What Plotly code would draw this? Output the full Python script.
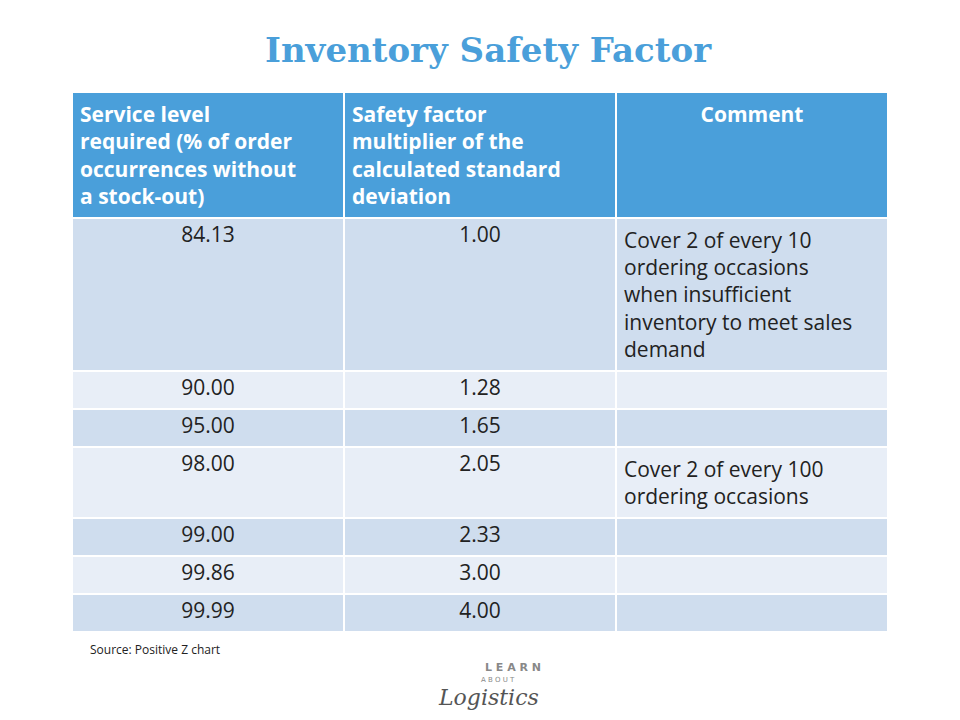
import plotly.graph_objects as go

headers = ["Service level<br>required (% of order<br>occurrences without<br>a stock-out)",
           "Safety factor<br>multiplier of the<br>calculated standard<br>deviation",
           "Comment"]
service = ["84.13", "90.00", "95.00", "98.00", "99.00", "99.86", "99.99"]
factor = ["1.00", "1.28", "1.65", "2.05", "2.33", "3.00", "4.00"]
comments = ["Cover 2 of every 10<br>ordering occasions<br>when insufficient<br>inventory to meet sales<br>demand",
            "", "", "Cover 2 of every 100<br>ordering occasions", "", "", ""]

fills = ["#CFDDEE", "#E8EEF7"] * 4
fills = fills[:7]

fig = go.Figure(go.Table(
    domain=dict(x=[64/960, 880/960], y=[0, 1 - 84/720]),
    columnwidth=[1, 1, 1],
    header=dict(values=["<b>%s</b>" % h for h in headers],
                fill_color="#4A9FDA", line=dict(color="white", width=2),
                align=["left", "left", "center"],
                font=dict(family="Open Sans", size=21, color="white"),
                height=39),
    cells=dict(values=[service, factor, comments],
               fill_color=[fills, fills, fills], line=dict(color="white", width=2),
               align=["center", "center", "left"],
               font=dict(family="Open Sans", size=21, color="#222222"),
               height=38)
))

fig.update_layout(width=960, height=720, margin=dict(l=0, r=0, t=0, b=0),
                  paper_bgcolor="white", plot_bgcolor="white")
fig.add_annotation(text="<b>Inventory Safety Factor</b>", x=0.5, y=1-42/720, xref="paper", yref="paper",
                   yanchor="middle", showarrow=False, font=dict(family="DejaVu Serif", size=34, color="#4A9FDA"))
fig.add_annotation(text="Source: Positive Z chart", x=80/960, y=1-641/720, xref="paper", yref="paper",
                   xanchor="left", yanchor="middle", showarrow=False, font=dict(family="Open Sans", size=12, color="#222"))
fig.add_annotation(text="<b>L E A R N</b>", x=505/960, y=1-659/720, xref="paper", yref="paper",
                   yanchor="middle", showarrow=False, font=dict(family="DejaVu Sans", size=11, color="#888"))
fig.add_annotation(text="A B O U T", x=490/960, y=1-672/720, xref="paper", yref="paper",
                   yanchor="middle", showarrow=False, font=dict(family="DejaVu Sans", size=7, color="#888"))
fig.add_annotation(text="<i>Logistics</i>", x=480/960, y=1-689/720, xref="paper", yref="paper",
                   yanchor="middle", showarrow=False, font=dict(family="DejaVu Serif", size=22, color="#555"))
fig.write_html("out.html")
